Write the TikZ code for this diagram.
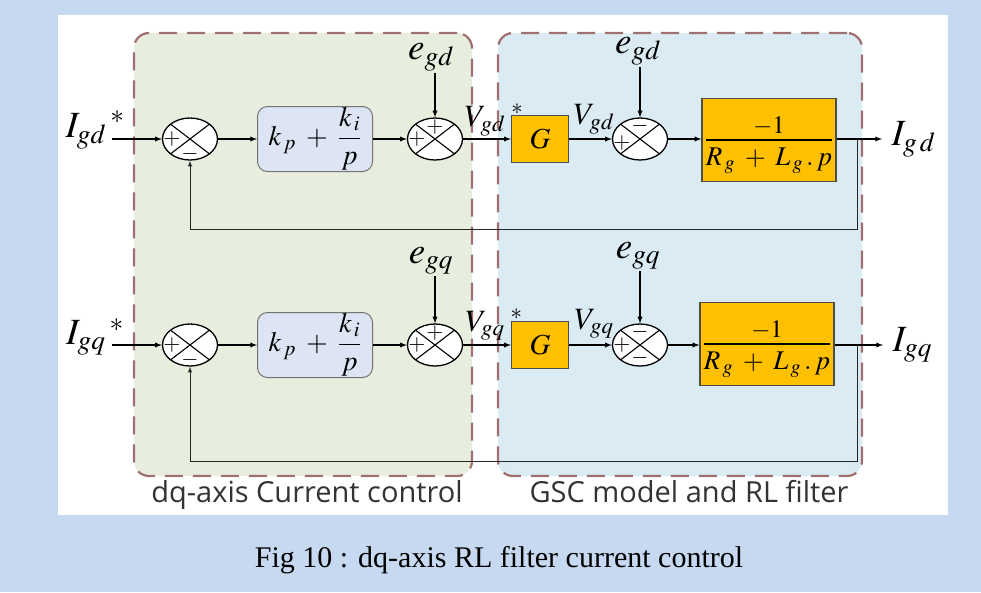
\documentclass[tikz,border=0pt]{standalone}
\usepackage{amsmath}
\usepackage{mathptmx}
\usepackage[no-math]{fontspec}
\setmainfont{Liberation Serif}
\newfontfamily\regionfont{Open Sans}
\usetikzlibrary{shapes.geometric,arrows,positioning}
\definecolor{pagebg}{RGB}{198,217,240}
\definecolor{ctrlbg}{RGB}{232,238,222}
\definecolor{gscbg}{RGB}{218,235,243}
\definecolor{dashred}{RGB}{160,112,112}
\definecolor{piblue}{RGB}{221,228,243}
\definecolor{gold}{RGB}{255,192,0}
\tikzset
{
    sumnode/.style  = {ellipse, draw=black, line width=1.3pt, fill=white, minimum width=55pt, minimum height=42pt, inner sep=0pt,
                       path picture={\draw[-, line width=1.1pt] (path picture bounding box.north west) -- (path picture bounding box.south east)
                                     (path picture bounding box.south west) -- (path picture bounding box.north east);}},
    piblock/.style  = {rectangle, rounded corners=10pt, draw=black!55, fill=piblue, line width=1pt, minimum width=115pt, minimum height=65pt, inner sep=0pt, font=\fontsize{28}{30}\selectfont},
    gblock/.style   = {rectangle, draw=black!70, fill=gold, line width=1.2pt, minimum width=57pt, minimum height=47pt, font=\fontsize{29}{31}\selectfont},
    plant/.style    = {rectangle, draw=black!70, fill=gold, line width=1.2pt, minimum width=134pt, minimum height=83pt, inner sep=0pt,
                       text height=30pt, text depth=16.5pt, font=\fontsize{27}{29}\selectfont},
    region/.style   = {rectangle, rounded corners=15pt, draw=dashred, line width=2.2pt, dash pattern=on 18pt off 10pt},
    regionlbl/.style= {font=\regionfont\fontsize{29}{31}\selectfont, text=black!80, inner sep=2pt},
    siglabel/.style = {font=\fontsize{37}{39}\selectfont, inner sep=1pt},
    vlabel/.style   = {font=\fontsize{31}{33}\selectfont, inner sep=1pt},
    sign/.style     = {font=\fontsize{22}{22}\selectfont, inner sep=0pt},
    feedback/.style = {line width=1pt, draw=black!85}
}
\begin{document}
\begin{tikzpicture}[x=1pt, y=-1pt, ->, >=latex, line width=1.3pt]
\useasboundingbox (0,0) rectangle (981,592);
\fill[pagebg] (0,0) rectangle (981,592);
\fill[white] (58,15) rectangle (948,515);
% the two dashed regions
\node [region, fill=ctrlbg, minimum width=338pt, minimum height=443pt] at (303,254.5) (ctrl) {};
\node [region, fill=gscbg, minimum width=364pt, minimum height=443pt] at (680,254.5) (gsc) {};
\node [regionlbl, below=1pt of ctrl, xshift=4pt] (ctrllbl) {dq-axis Current control};
\node [regionlbl, below=1pt of gsc, xshift=9pt] (gsclbl) {GSC model and RL filter};
% d axis
\node [sumnode] at (190,139) (s1d) {};
\node [piblock] at (315,139) (pid) {$k_{\,p}\;+\;\dfrac{k_{\,i}}{p}$};
\node [sumnode] at (435,139) (s2d) {};
\node [gblock] at (540,139) (gd) {$G$};
\node [sumnode] at (640,139) (s3d) {};
\node [plant] at (769,140) (pd) {$\dfrac{\raisebox{-5pt}{\fontsize{25}{25}\selectfont$-1$}}{\makebox[126pt]{$R_{\,g}\;+\;L_{\,g}\,.\,p$}}$};
\node [sign] at ([xshift=10]s1d.west) (s1dp) {$+$};
\node [sign] at ([yshift=7]s1d.south) (s1dm) {$-$};
\node [sign] at ([yshift=-10]s2d.north) (s2dt) {$+$};
\node [sign] at ([xshift=10]s2d.west) (s2dl) {$+$};
\node [sign] at ([yshift=-9]s3d.north) (s3dt) {$-$};
\node [sign] at ([xshift=10,yshift=-4]s3d.west) (s3dl) {$+$};
\coordinate (igdin) at (112,139);
\coordinate (igdout) at (882,139);
\coordinate (tapd) at (857,139);
\coordinate (bendd) at (857,229);
\node [siglabel] at (95,130) (igdref) {$I_{gd}\,{}^{*}$};
\node [siglabel] at (431,57) (egd1) {$e_{gd}$};
\node [siglabel] at (638,51) (egd2) {$e_{gd}$};
\node [vlabel] at (494,120) (vgdref) {$V_{gd}\hspace{6pt}{}^{*}$};
\node [vlabel] at (594,119) (vgd) {$V_{gd}$};
\node [siglabel, right=8pt of igdout] (igd) {$I_{g\,d}$};
\draw (igdin) -- (s1d);
\draw (s1d) -- (pid);
\draw (pid) -- (s2d);
\draw (s2d) -- (gd);
\draw (gd) -- (s3d);
\draw (s3d) -- (s3d -| pd.west);
\draw (pd.east |- igdout) -- (igdout);
\draw (egd1.south -| s2d.north) -- (s2d.north);
\draw (egd2.south -| s3d.north) -- (s3d.north);
\draw [feedback] (tapd) -- (bendd) -| (s1d.south);
% q axis
\node [sumnode] at (190,345) (s1q) {};
\node [piblock] at (315,345) (piq) {$k_{\,p}\;+\;\dfrac{k_{\,i}}{p}$};
\node [sumnode] at (435,345) (s2q) {};
\node [gblock] at (540,345) (gq) {$G$};
\node [sumnode] at (640,345) (s3q) {};
\node [plant] at (767,344) (pq) {$\dfrac{\raisebox{-5pt}{\fontsize{25}{25}\selectfont$-1$}}{\makebox[126pt]{$R_{\,g}\;+\;L_{\,g}\,.\,p$}}$};
\node [sign] at ([xshift=10]s1q.west) (s1qp) {$+$};
\node [sign] at ([yshift=7]s1q.south) (s1qm) {$-$};
\node [sign] at ([yshift=-10]s2q.north) (s2qt) {$+$};
\node [sign] at ([xshift=10]s2q.west) (s2ql) {$+$};
\node [sign] at ([yshift=-9]s3q.north) (s3qt) {$-$};
\node [sign] at ([xshift=10]s3q.west) (s3ql) {$+$};
\node [sign] at ([yshift=9]s3q.south) (s3qb) {$-$};
\coordinate (igqin) at (112,345);
\coordinate (igqout) at (883,345);
\coordinate (tapq) at (857,345);
\coordinate (bendq) at (857,461);
\node [siglabel] at (95,337) (igqref) {$I_{gq}\,{}^{*}$};
\node [siglabel] at (431,261) (egq1) {$e_{gq}$};
\node [siglabel] at (638,256) (egq2) {$e_{gq}$};
\node [vlabel] at (494,325) (vgqref) {$V_{gq}\hspace{6pt}{}^{*}$};
\node [vlabel] at (594,324) (vgq) {$V_{gq}$};
\node [siglabel, right=8pt of igqout] (igq) {$I_{gq}$};
\draw (igqin) -- (s1q);
\draw (s1q) -- (piq);
\draw (piq) -- (s2q);
\draw (s2q) -- (gq);
\draw (gq) -- (s3q);
\draw (s3q) -- (s3q -| pq.west);
\draw (pq.east |- igqout) -- (igqout);
\draw (egq1.south -| s2q.north) -- (s2q.north);
\draw (egq2.south -| s3q.north) -- (s3q.north);
\draw [feedback] (tapq) -- (bendq) -| (s1q.south);
% caption
\node [font=\fontsize{30}{32}\selectfont] at (499,560) (caption) {Fig 10 : dq-axis RL filter current control};
\end{tikzpicture}
\end{document}
